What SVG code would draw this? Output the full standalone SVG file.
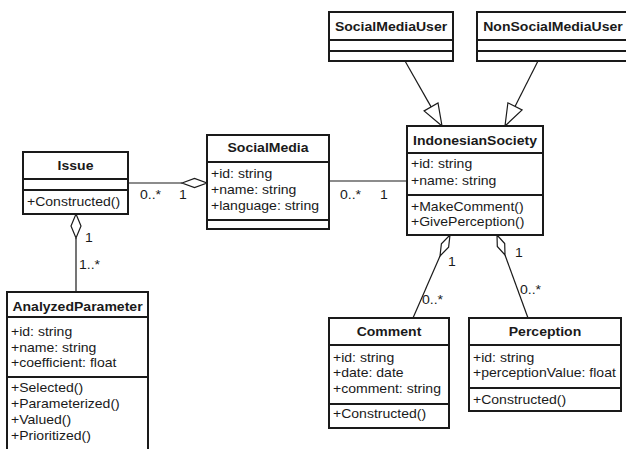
<svg xmlns="http://www.w3.org/2000/svg" width="626" height="449" viewBox="0 0 626 449">
<style>
.box{fill:#fff;stroke:#1a1a1a;stroke-width:2}
.div{stroke:#1a1a1a;stroke-width:2}
.ln{stroke:#1a1a1a;stroke-width:1.2;fill:none}
.hd{fill:#fff;stroke:#1a1a1a;stroke-width:1.2}
text{font-family:"Liberation Sans",Arial,sans-serif;font-size:12px;fill:#1a1a1a}
.ti{font-weight:bold;text-anchor:middle}
</style>
<rect width="626" height="449" fill="#fff"/>
<g id="connectors">
<line class="ln" x1="128" y1="183" x2="182" y2="183"/>
<polygon class="hd" points="182,183 194.5,178.5 207,183 194.5,187.5"/>
<text transform="translate(140,199) scale(1.17,1)">0..*</text>
<text transform="translate(179,199) scale(1.17,1)">1</text>
<polygon class="hd" points="76,214 81,226 76,238 71,226"/>
<line class="ln" x1="76" y1="238" x2="76" y2="292"/>
<text transform="translate(85,242) scale(1.17,1)">1</text>
<text transform="translate(79,269) scale(1.17,1)">1..*</text>
<line class="ln" x1="329" y1="181" x2="407" y2="181"/>
<text transform="translate(340,199) scale(1.17,1)">0..*</text>
<text transform="translate(380,199) scale(1.17,1)">1</text>
<line class="ln" x1="405" y1="61" x2="431.1" y2="106.9"/>
<polygon class="hd" points="442,126 424.1,110.9 438,102.9"/>
<line class="ln" x1="538" y1="61" x2="515" y2="106.4"/>
<polygon class="hd" points="505,126 522.1,110 507.9,102.8"/>
<polygon class="hd" points="450,235 448.6,247.2 440,256 441.4,243.8"/>
<line class="ln" x1="440" y1="256" x2="413" y2="318"/>
<text transform="translate(448,266) scale(1.17,1)">1</text>
<text transform="translate(422,304) scale(1.17,1)">0..*</text>
<polygon class="hd" points="497,235 504.7,243.5 505,255 497.3,246.5"/>
<line class="ln" x1="505" y1="255" x2="528" y2="318"/>
<text transform="translate(515,257) scale(1.17,1)">1</text>
<text transform="translate(520,294) scale(1.17,1)">0..*</text>
</g>
<g id="Issue">
<rect class="box" x="23" y="152" width="105" height="62"/>
<line class="div" x1="23" y1="179" x2="128" y2="179"/>
<line class="div" x1="23" y1="190" x2="128" y2="190"/>
<text class="ti" transform="translate(75.5,170) scale(1.17,1)">Issue</text>
<text transform="translate(27,206) scale(1.17,1)">+Constructed()</text>
</g>
<g id="SocialMedia">
<rect class="box" x="207" y="135" width="122" height="94"/>
<line class="div" x1="207" y1="162" x2="329" y2="162"/>
<line class="div" x1="207" y1="220" x2="329" y2="220"/>
<text class="ti" transform="translate(268,152) scale(1.17,1)">SocialMedia</text>
<text transform="translate(211,178) scale(1.17,1)">+id: string</text>
<text transform="translate(211,194) scale(1.17,1)">+name: string</text>
<text transform="translate(211,210) scale(1.17,1)">+language: string</text>
</g>
<g id="IndonesianSociety">
<rect class="box" x="407" y="126" width="136" height="109"/>
<line class="div" x1="407" y1="153" x2="543" y2="153"/>
<line class="div" x1="407" y1="195" x2="543" y2="195"/>
<text class="ti" transform="translate(475,145) scale(1.17,1)">IndonesianSociety</text>
<text transform="translate(411,168) scale(1.17,1)">+id: string</text>
<text transform="translate(411,185) scale(1.17,1)">+name: string</text>
<text transform="translate(411,211) scale(1.17,1)">+MakeComment()</text>
<text transform="translate(411,226) scale(1.17,1)">+GivePerception()</text>
</g>
<g id="SocialMediaUser">
<rect class="box" x="329" y="12" width="124" height="49"/>
<line class="div" x1="329" y1="40" x2="453" y2="40"/>
<line class="div" x1="329" y1="51" x2="453" y2="51"/>
<text class="ti" transform="translate(391,31) scale(1.17,1)">SocialMediaUser</text>
</g>
<g id="NonSocialMediaUser">
<rect class="box" x="477" y="12" width="152" height="49"/>
<line class="div" x1="477" y1="40" x2="629" y2="40"/>
<line class="div" x1="477" y1="51" x2="629" y2="51"/>
<text class="ti" transform="translate(553,31) scale(1.17,1)">NonSocialMediaUser</text>
</g>
<g id="AnalyzedParameter">
<rect class="box" x="7" y="292" width="141" height="162"/>
<line class="div" x1="7" y1="317" x2="148" y2="317"/>
<line class="div" x1="7" y1="377" x2="148" y2="377"/>
<text class="ti" transform="translate(77.5,311) scale(1.17,1)">AnalyzedParameter</text>
<text transform="translate(11,336) scale(1.17,1)">+id: string</text>
<text transform="translate(11,352) scale(1.17,1)">+name: string</text>
<text transform="translate(11,367) scale(1.17,1)">+coefficient: float</text>
<text transform="translate(11,392) scale(1.17,1)">+Selected()</text>
<text transform="translate(11,408) scale(1.17,1)">+Parameterized()</text>
<text transform="translate(11,424) scale(1.17,1)">+Valued()</text>
<text transform="translate(11,440) scale(1.17,1)">+Prioritized()</text>
</g>
<g id="Comment">
<rect class="box" x="329" y="318" width="120" height="110"/>
<line class="div" x1="329" y1="345" x2="449" y2="345"/>
<line class="div" x1="329" y1="404" x2="449" y2="404"/>
<text class="ti" transform="translate(389,336) scale(1.17,1)">Comment</text>
<text transform="translate(333,362) scale(1.17,1)">+id: string</text>
<text transform="translate(333,377) scale(1.17,1)">+date: date</text>
<text transform="translate(333,393) scale(1.17,1)">+comment: string</text>
<text transform="translate(333,418) scale(1.17,1)">+Constructed()</text>
</g>
<g id="Perception">
<rect class="box" x="469" y="318" width="152" height="93"/>
<line class="div" x1="469" y1="345" x2="621" y2="345"/>
<line class="div" x1="469" y1="388" x2="621" y2="388"/>
<text class="ti" transform="translate(545,336) scale(1.17,1)">Perception</text>
<text transform="translate(473,362) scale(1.17,1)">+id: string</text>
<text transform="translate(473,377) scale(1.17,1)">+perceptionValue: float</text>
<text transform="translate(473,404) scale(1.17,1)">+Constructed()</text>
</g>
</svg>
